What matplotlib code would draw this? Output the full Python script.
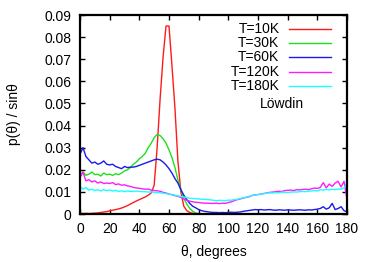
import numpy as np
import matplotlib
matplotlib.use("Agg")
import matplotlib.pyplot as plt
from matplotlib.lines import Line2D

plt.rcParams['font.family'] = ['Liberation Sans', 'DejaVu Sans']

theta = np.arange(0, 181, 2)

t10 = [0.0003, 0.0002, 0.0003, 0.0002, 0.0003, 0.0004, 0.0005, 0.0007, 0.0009, 0.0011,
       0.0014, 0.0017, 0.0020, 0.0023, 0.0027, 0.0032, 0.0038, 0.0045, 0.0052, 0.0059,
       0.0065, 0.0071, 0.0077, 0.0085, 0.0095, 0.0130, 0.0300, 0.0520, 0.0710, 0.0850,
       0.0850, 0.0670, 0.0480, 0.0240, 0.0100, 0.0035, 0.0015, 0.0007, 0.0003, 0.0001,
       0, 0, 0, 0, 0, 0, 0, 0, 0, 0,
       0, 0, 0, 0, 0, 0, 0, 0, 0, 0,
       0, 0, 0, 0, 0, 0, 0, 0, 0, 0,
       0, 0, 0, 0, 0, 0, 0, 0, 0, 0,
       0, 0, 0, 0, 0, 0, 0, 0, 0, 0, 0]

t30 = [0.0170, 0.0190, 0.0175, 0.0180, 0.0190, 0.0178, 0.0180, 0.0172, 0.0185, 0.0178,
       0.0180, 0.0175, 0.0182, 0.0178, 0.0185, 0.0195, 0.0200, 0.0210, 0.0225, 0.0235,
       0.0250, 0.0260, 0.0275, 0.0300, 0.0320, 0.0345, 0.0360, 0.0355, 0.0340, 0.0320,
       0.0290, 0.0255, 0.0210, 0.0155, 0.0110, 0.0070, 0.0045, 0.0025, 0.0012, 0.0005,
       0.0002, 0, 0, 0, 0, 0, 0, 0, 0, 0,
       0, 0, 0, 0, 0, 0, 0, 0, 0, 0,
       0, 0, 0, 0, 0, 0, 0, 0, 0, 0,
       0, 0, 0, 0, 0, 0, 0, 0, 0, 0,
       0, 0, 0, 0, 0, 0, 0, 0, 0, 0, 0]

t60 = [0.0270, 0.0300, 0.0260, 0.0245, 0.0230, 0.0235, 0.0225, 0.0230, 0.0240, 0.0225,
       0.0222, 0.0225, 0.0215, 0.0210, 0.0205, 0.0215, 0.0210, 0.0212, 0.0212, 0.0215,
       0.0220, 0.0225, 0.0230, 0.0235, 0.0240, 0.0245, 0.0248, 0.0245, 0.0235, 0.0222,
       0.0205, 0.0185, 0.0160, 0.0140, 0.0110, 0.0085, 0.0065, 0.0048, 0.0035, 0.0028,
       0.0020, 0.0015, 0.0012, 0.0010, 0.0008, 0.0007, 0.0007, 0.0006, 0.0007, 0.0006,
       0.0007, 0.0008, 0.0007, 0.0008, 0.0009, 0.0012, 0.0014, 0.0016, 0.0018, 0.0020,
       0.0019, 0.0020, 0.0018, 0.0019, 0.0020, 0.0018, 0.0017, 0.0019, 0.0018, 0.0017,
       0.0019, 0.0018, 0.0017, 0.0018, 0.0019, 0.0018, 0.0017, 0.0019, 0.0018, 0.0020,
       0.0022, 0.0025, 0.0033, 0.0022, 0.0028, 0.0048, 0.0020, 0.0025, 0.0033, 0.0015, 0.0010]

t120 = [0.0165, 0.0190, 0.0150, 0.0155, 0.0145, 0.0150, 0.0140, 0.0145, 0.0138, 0.0140,
        0.0138, 0.0142, 0.0133, 0.0136, 0.0130, 0.0132, 0.0127, 0.0125, 0.0120, 0.0118,
        0.0116, 0.0114, 0.0112, 0.0113, 0.0108, 0.0106, 0.0105, 0.0103, 0.0098, 0.0095,
        0.0090, 0.0087, 0.0083, 0.0080, 0.0075, 0.0068, 0.0062, 0.0058, 0.0055, 0.0053,
        0.0052, 0.0050, 0.0049, 0.0049, 0.0048, 0.0048, 0.0049, 0.0047, 0.0049, 0.0048,
        0.0052, 0.0055, 0.0060, 0.0065, 0.0068, 0.0072, 0.0075, 0.0078, 0.0084, 0.0086,
        0.0088, 0.0090, 0.0093, 0.0095, 0.0098, 0.0099, 0.0101, 0.0103, 0.0102, 0.0106,
        0.0107, 0.0108, 0.0106, 0.0110, 0.0109, 0.0111, 0.0112, 0.0110, 0.0114, 0.0117,
        0.0116, 0.0120, 0.0142, 0.0118, 0.0135, 0.0125, 0.0140, 0.0148, 0.0122, 0.0148, 0.0065]

t180 = [0.0125, 0.0112, 0.0120, 0.0108, 0.0112, 0.0106, 0.0110, 0.0104, 0.0110, 0.0106,
        0.0108, 0.0104, 0.0107, 0.0102, 0.0105, 0.0101, 0.0104, 0.0102, 0.0103, 0.0104,
        0.0102, 0.0101, 0.0101, 0.0099, 0.0100, 0.0098, 0.0097, 0.0096, 0.0094, 0.0092,
        0.0090, 0.0088, 0.0085, 0.0082, 0.0079, 0.0077, 0.0074, 0.0071, 0.0070, 0.0069,
        0.0068, 0.0066, 0.0067, 0.0065, 0.0064, 0.0062, 0.0060, 0.0062, 0.0061, 0.0060,
        0.0063, 0.0062, 0.0065, 0.0066, 0.0070, 0.0073, 0.0076, 0.0080, 0.0083, 0.0086,
        0.0088, 0.0090, 0.0092, 0.0094, 0.0096, 0.0095, 0.0097, 0.0096, 0.0099, 0.0098,
        0.0097, 0.0099, 0.0100, 0.0099, 0.0101, 0.0102, 0.0101, 0.0103, 0.0104, 0.0106,
        0.0104, 0.0110, 0.0108, 0.0111, 0.0109, 0.0112, 0.0110, 0.0113, 0.0112, 0.0118, 0.0142]

labels = ['T=10K', 'T=30K', 'T=60K', 'T=120K', 'T=180K']
colors = ['#ff1a1a', '#1ee01e', '#1a1aee', '#ff1aff', '#1affff']
series = [t10, t30, t60, t120, t180]

xticks = list(range(0, 181, 20))
yticks = [0, 0.01, 0.02, 0.03, 0.04, 0.05, 0.06, 0.07, 0.08, 0.09]
yticklabels = ['0', '0.01', '0.02', '0.03', '0.04', '0.05', '0.06', '0.07', '0.08', '0.09']

W, H = 374, 262
fig = plt.figure(figsize=(W / 100, H / 100), dpi=100)
L, R, T, B = 80, 347, 15, 214
ax = fig.add_axes([L / W, 1 - B / H, (R - L) / W, (B - T) / H])

for y, c in zip(series, colors):
    ax.plot(theta, y, color=c, lw=1.0)

ax.set_xlim(0, 180)
ax.set_ylim(0, 0.09)
ax.set_xticks(xticks)
ax.set_yticks(yticks)
ax.set_yticklabels(yticklabels)
for s in ax.spines.values():
    s.set_linewidth(1.6)
ax.tick_params(direction='in', top=True, right=True, length=3.6, width=1.0,
               labelsize=10, pad=6)
ax.set_xlabel('θ, degrees', fontsize=10)
ax.set_ylabel('p(θ) / sinθ', fontsize=10)
ax.xaxis.set_label_coords(0.5, -(245 - B) / (B - T))
ax.yaxis.set_label_coords(-(L - 21) / (R - L), 0.5)

# legend (gnuplot style: text right-justified, sample on the right)
row_y = [29, 43, 57.3, 71.7, 86.3]
for lab, c, yy in zip(labels, colors, row_y):
    fy = 1 - (yy - T) / (B - T)
    ax.text((279.5 - L) / (R - L), fy, lab, transform=ax.transAxes,
            ha='right', va='center', fontsize=10)
    ax.add_line(Line2D([(288.5 - L) / (R - L), (330.5 - L) / (R - L)], [fy, fy],
                       transform=ax.transAxes, color=c, lw=1.0))
ax.text((259.5 - L) / (R - L), 1 - (104 - T) / (B - T), 'Löwdin',
        transform=ax.transAxes, ha='left', va='center', fontsize=10)

fig.savefig('out.png', dpi=100)
